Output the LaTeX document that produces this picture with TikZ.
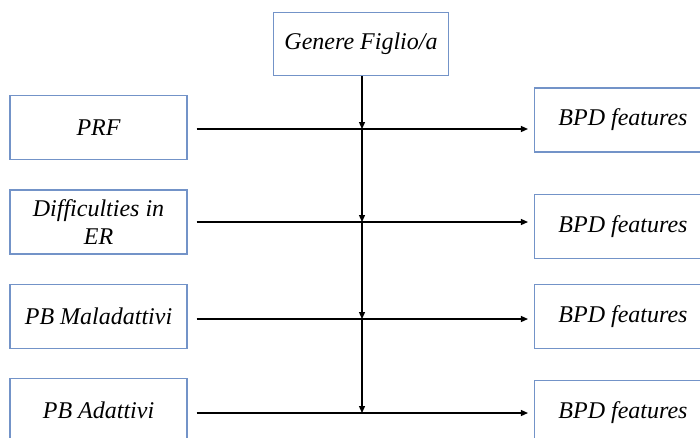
\documentclass[tikz,border=0pt]{standalone}
\usepackage{fontspec}
\setmainfont{Liberation Serif}
\usetikzlibrary{arrows.meta}
\definecolor{boxblue}{HTML}{7393C8}
\begin{document}
\begin{tikzpicture}[x=1pt,y=-1pt,
  box/.style={draw=boxblue, line width=1.1pt, minimum width=177pt, minimum height=64pt,
    inner sep=0pt, align=center, font=\fontsize{24}{28}\selectfont\itshape},
  link/.style={line width=1.3pt, -{Triangle[length=7pt,width=6pt]}}]
\useasboundingbox (0,0) rectangle (700,437);
\clip (0,0) rectangle (700,437);
% top node
\node[box, minimum width=175pt, minimum height=63pt] (gen) at (361,44) {Genere Figlio/a};
% predictors
\node[box] (prf)  at (98.5,127.5) {PRF};
\node[box] (der)  at (98.5,222) {Difficulties in\\ER};
\node[box] (pbm)  at (98.5,316.5) {PB Maladattivi};
\node[box] (pba)  at (98.5,410.5) {PB Adattivi};
% outcomes
\node[box] (bpd1) at (623,120) {BPD features};
\node[box] (bpd2) at (623,226.5) {BPD features};
\node[box] (bpd3) at (623,316.5) {BPD features};
\node[box] (bpd4) at (623,412.5) {BPD features};
% horizontal paths
\coordinate (r1) at (0,129);
\coordinate (r2) at (0,222);
\coordinate (r3) at (0,319);
\coordinate (r4) at (0,413);
\draw[link, shorten <=9pt, shorten >=6pt] (prf.east |- r1) -- (bpd1.west |- r1);
\draw[link, shorten <=9pt, shorten >=6pt] (der.east |- r2) -- (bpd2.west |- r2);
\draw[link, shorten <=9pt, shorten >=6pt] (pbm.east |- r3) -- (bpd3.west |- r3);
\draw[link, shorten <=9pt, shorten >=6pt] (pba.east |- r4) -- (bpd4.west |- r4);
% moderator line
\coordinate (m0) at ([xshift=1pt]gen.south);
\coordinate (m1) at (m0 |- r1);
\coordinate (m2) at (m0 |- r2);
\coordinate (m3) at (m0 |- r3);
\coordinate (m4) at (m0 |- r4);
\draw[link] (m0) -- (m1);
\draw[link] (m1) -- (m2);
\draw[link] (m2) -- (m3);
\draw[link] (m3) -- (m4);
\end{tikzpicture}
\end{document}
